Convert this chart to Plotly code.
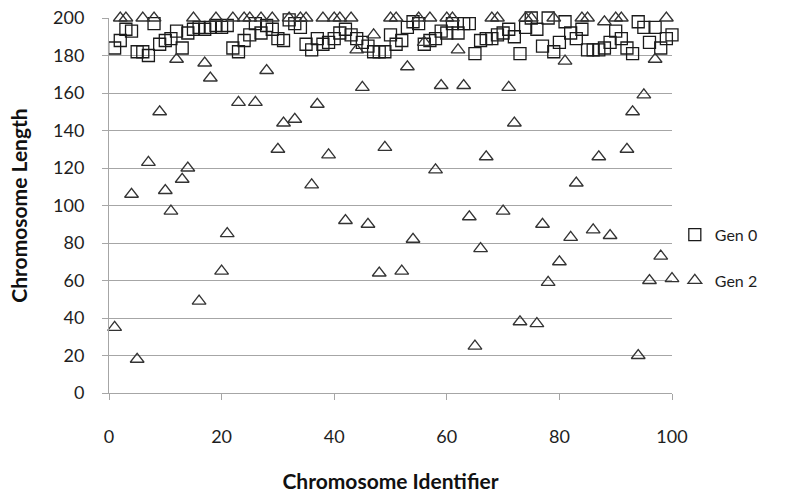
import plotly.graph_objects as go

# Chromosome identifiers 1..100
chromosome_ids = list(range(1, 101))

# Chromosome length per identifier, generation 0
gen0_length = [
    184, 188, 194, 193, 182, 182, 180, 197, 186, 188,
    189, 193, 184, 192, 194, 195, 194, 195, 196, 195,
    196, 184, 182, 188, 191, 197, 192, 196, 194, 189,
    188, 199, 197, 195, 186, 183, 189, 186, 187, 189,
    192, 194, 191, 189, 187, 185, 182, 182, 182, 191,
    186, 188, 195, 198, 197, 186, 188, 189, 193, 192,
    197, 192, 197, 197, 181, 188, 189, 189, 191, 192,
    194, 190, 181, 195, 200, 194, 185, 200, 182, 187,
    198, 192, 189, 194, 183, 183, 183, 184, 187, 193,
    189, 184, 181, 198, 195, 187, 195, 184, 189, 191,
]

# Chromosome length per identifier, generation 2
gen2_length = [
    35, 200, 200, 106, 18, 200, 123, 200, 150, 108,
    97, 178, 114, 120, 200, 49, 176, 168, 200, 65,
    85, 200, 155, 200, 200, 155, 200, 172, 200, 130,
    144, 200, 146, 200, 200, 111, 154, 200, 127, 200,
    200, 92, 200, 183, 163, 90, 191, 64, 131, 200,
    200, 65, 174, 82, 200, 187, 200, 119, 164, 200,
    200, 183, 164, 94, 25, 77, 126, 200, 200, 97,
    163, 144, 38, 200, 200, 37, 90, 59, 200, 70,
    177, 83, 112, 200, 200, 87, 126, 198, 84, 200,
    200, 130, 150, 20, 159, 60, 178, 73, 200, 61,
]

x_ticks = [0, 20, 40, 60, 80, 100]
y_ticks = [0, 20, 40, 60, 80, 100, 120, 140, 160, 180, 200]

FONT = "Lato, 'Open Sans', sans-serif"
GRID = "#a6a6a6"
TEXT = "#1e1e1e"

fig = go.Figure()

fig.add_trace(go.Scatter(
    x=chromosome_ids, y=gen0_length, mode="markers", name="Gen 0",
    legendgroup="g0", cliponaxis=False,
    marker=dict(symbol="square-open", size=12, color="#1a1a1a",
                line=dict(width=1.3, color="#1a1a1a")),
))
fig.add_trace(go.Scatter(
    x=chromosome_ids, y=gen2_length, mode="markers", name="Gen 2",
    legendgroup="g2", cliponaxis=False,
    marker=dict(symbol="triangle-up-open", size=12, color="#333333",
                line=dict(width=1.3, color="#333333")),
))

fig.update_layout(
    width=803, height=493,
    margin=dict(l=109, r=131, t=18, b=100),
    paper_bgcolor="white", plot_bgcolor="white",
    font=dict(family=FONT, size=18, color=TEXT),
    showlegend=True,
    legend=dict(
        x=1.005, xanchor="left", y=0.361, yanchor="middle",
        traceorder="grouped", tracegroupgap=22,
        font=dict(family=FONT, size=16, color=TEXT),
        bgcolor="rgba(0,0,0,0)", itemwidth=30,
    ),
)

fig.update_xaxes(
    range=[0, 100], tickvals=x_ticks, ticktext=[str(v) for v in x_ticks],
    showgrid=False, zeroline=False, automargin=False,
    showline=True, linecolor=GRID, linewidth=1,
    ticks="outside", ticklen=6, tickcolor=GRID, ticklabelstandoff=21,
    tickfont=dict(family=FONT, size=18, color=TEXT),
    title=dict(text="<b>Chromosome Identifier</b>", standoff=29,
               font=dict(family=FONT, size=21, color="#111111")),
)
fig.update_yaxes(
    range=[0, 200], tickvals=y_ticks, ticktext=[str(v) for v in y_ticks],
    showgrid=True, gridcolor=GRID, gridwidth=1, zeroline=False, automargin=False,
    showline=True, linecolor=GRID, linewidth=1,
    ticks="outside", ticklen=6, tickcolor=GRID, ticklabelstandoff=14,
    tickfont=dict(family=FONT, size=18, color=TEXT),
    title=dict(text="<b>Chromosome Length</b>", standoff=19,
               font=dict(family=FONT, size=21, color="#111111")),
)

fig.write_html("out.html")
